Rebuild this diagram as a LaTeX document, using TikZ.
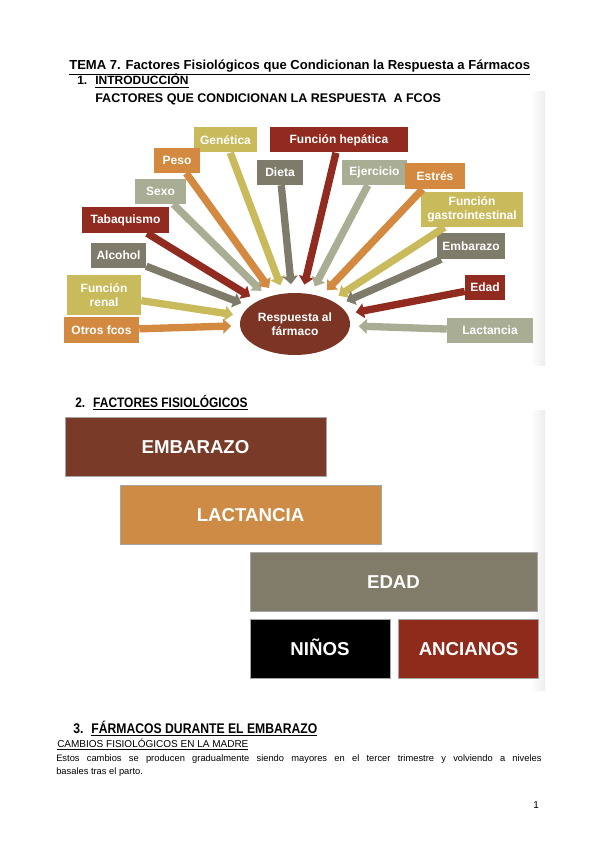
\documentclass[tikz,border=0pt]{standalone}
\usepackage{fontspec}
\setmainfont{Liberation Sans}
\newfontfamily\narrowsans[FakeStretch=0.87]{Liberation Sans}
\usetikzlibrary{shapes.geometric, arrows.meta, positioning}

\definecolor{fred}{HTML}{922B1F}
\definecolor{forange}{HTML}{D38A40}
\definecolor{fkhaki}{HTML}{C9BA5C}
\definecolor{fgray}{HTML}{7F7B6B}
\definecolor{fsage}{HTML}{A8AD94}
\definecolor{respbrown}{HTML}{7C3524}
\definecolor{embbrown}{HTML}{7A3A28}
\definecolor{lactorange}{HTML}{CD8B45}
\definecolor{edadgray}{HTML}{817C6A}
\definecolor{ancred}{HTML}{8F2B1B}

\begin{document}
\begin{tikzpicture}[
    x=0.75pt, y=-0.75pt,
    factor/.style={rectangle, inner sep=0pt, align=center, text=white, minimum height=18.75pt, font=\bfseries\fontsize{9}{10.5}\selectfont},
    response/.style={ellipse, inner sep=0pt, align=center, text=white, fill=respbrown, minimum width=82.5pt, minimum height=46.5pt, font=\bfseries\fontsize{9}{10.5}\selectfont},
    block/.style={rectangle, inner sep=0pt, text=white, minimum height=44.25pt, text height=10pt, text depth=0pt, draw=black!35, font=\bfseries\fontsize{14}{16}\selectfont},
    heading/.style={anchor=base west, inner sep=0pt, font=\bfseries\fontsize{9}{11}\selectfont},
    arrow/.style={line width=5.5pt, -{Triangle[length=6pt,width=11pt]}, shorten >=6.5pt}
]
\fill[white] (0,0) rectangle (600,848);
\useasboundingbox (0,0) rectangle (600,848);
\shade[left color=white, right color=black!7] (530,92) rectangle (545,365);
\shade[left color=white, right color=black!7] (530,410) rectangle (545,690);

% Headings
\node (title) [heading, font=\bfseries\fontsize{9.8}{12}\selectfont] at (69,70) {\underline{TEMA 7. Factores Fisiológicos que Condicionan la Respuesta a Fármacos}};
\node (intro) [heading] at (77,85) {1.\hspace{6pt}\underline{INTRODUCCIÓN}};
\node (introtitle) [heading, font=\bfseries\fontsize{9.4}{11}\selectfont] at (95,103) {FACTORES QUE CONDICIONAN LA RESPUESTA \ A FCOS};

% Factor nodes
\node (resp) [response] at (295,324) {Respuesta al\\fármaco};
\node (gen) [factor, fill=fkhaki, minimum width=47.25pt] at (225.5,140) {Genética};
\node (hep) [factor, fill=fred, minimum width=103.5pt] at (339,140) {Función hepática};
\node (peso) [factor, fill=forange, minimum width=34.5pt] at (177,160.5) {Peso};
\node (dieta) [factor, fill=fgray, minimum width=34.5pt] at (280,172.5) {Dieta};
\node (ejer) [factor, fill=fsage, minimum width=48.75pt] at (374.5,172.5) {Ejercicio};
\node (estres) [factor, fill=forange, minimum width=45pt, minimum height=19.5pt] at (435,176) {Estrés};
\node (gastro) [factor, fill=fkhaki, minimum width=76.5pt, minimum height=26.25pt] at (472,209.5) {Función\\gastrointestinal};
\node (sexo) [factor, fill=fsage, minimum width=38.25pt] at (160.5,191.5) {Sexo};
\node (taba) [factor, fill=fred, minimum width=65.25pt, minimum height=19.5pt] at (125.5,220) {Tabaquismo};
\node (alcohol) [factor, fill=fgray, minimum width=41.25pt] at (118.5,255.5) {Alcohol};
\node (renal) [factor, fill=fkhaki, minimum width=55.5pt, minimum height=30pt] at (104,295) {Función\\renal};
\node (otros) [factor, fill=forange, minimum width=56.25pt, minimum height=19.5pt] at (101.5,330) {Otros fcos};
\node (emb) [factor, fill=fgray, minimum width=51pt, minimum height=19.5pt] at (471,246) {Embarazo};
\node (edad) [factor, fill=fred, minimum width=30pt] at (485,287.5) {Edad};
\node (lact) [factor, fill=fsage, minimum width=64.5pt] at (490,330.5) {Lactancia};

% Connections
\draw [arrow, forange] (otros) -- (resp);
\draw [arrow, fkhaki] (renal) -- (resp);
\draw [arrow, fgray] (alcohol) -- (resp);
\draw [arrow, fred] (taba) -- (resp);
\draw [arrow, fsage] (sexo) -- (resp);
\draw [arrow, forange] (peso) -- (resp);
\draw [arrow, fkhaki] (gen) -- (resp);
\draw [arrow, fgray] (dieta) -- (resp);
\draw [arrow, fred] (hep) -- (resp);
\draw [arrow, fsage] (ejer) -- (resp);
\draw [arrow, forange] (estres) -- (resp);
\draw [arrow, fkhaki] (gastro) -- (resp);
\draw [arrow, fgray] (emb) -- (resp);
\draw [arrow, fred] (edad) -- (resp);
\draw [arrow, fsage] (lact) -- (resp);

% Physiological factors
\node (secfis) [heading, font=\narrowsans\bfseries\fontsize{10.3}{12}\selectfont] at (75,407) {2.\hspace{6pt}\underline{FACTORES FISIOLÓGICOS}};
\node (bemb) [block, fill=embbrown, minimum width=195.75pt] at (195.5,446.5) {EMBARAZO};
\node (blact) [block, fill=lactorange, minimum width=195.75pt] at (250.5,514.5) {LACTANCIA};
\node (bedad) [block, fill=edadgray, minimum width=215.25pt] at (393.5,581.5) {EDAD};
\node (bninos) [block, fill=black, minimum width=105pt, below=6pt of bedad.south west, anchor=north west] {NIÑOS};
\node (banc) [block, fill=ancred, minimum width=105pt, right=6pt of bninos] {ANCIANOS};

% Pregnancy text
\node (secemb) [heading, font=\narrowsans\bfseries\fontsize{10.5}{12}\selectfont] at (73,733) {3.\hspace{6pt}\underline{FÁRMACOS DURANTE EL EMBARAZO}};
\node (cambios) [heading, font=\fontsize{7.5}{9}\selectfont] at (57,747) {\underline{CAMBIOS FISIOLÓGICOS EN LA MADRE}};
\node (parrafo) [heading, anchor=north west, font=\fontsize{7}{9.75}\selectfont, align=left] at (56,754) {\makebox[364pt][s]{Estos cambios se producen gradualmente siendo mayores en el tercer trimestre y volviendo a niveles}\\basales tras el parto.};
\node (pagina) [heading, font=\fontsize{7.5}{9}\selectfont] at (533,808) {1};
\end{tikzpicture}
\end{document}
